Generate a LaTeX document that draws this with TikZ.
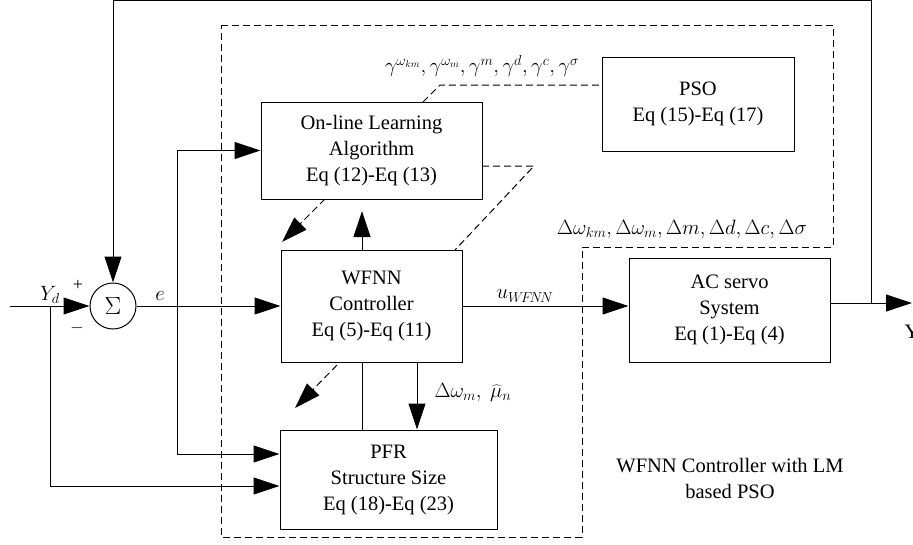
\documentclass[tikz,border=0pt]{standalone}
\usepackage{fontspec}
\setmainfont{Liberation Serif}
\usetikzlibrary{arrows.meta}
\begin{document}
\begin{tikzpicture}[x=1pt,y=-1pt,
  line width=1pt,
  every node/.style={font=\fontsize{20.5}{26}\selectfont},
  blk/.style={draw, align=center, inner sep=0pt},
  arr/.style={-{Triangle[length=26pt,width=17pt]}},
  dsh/.style={dash pattern=on 7pt off 4pt, line width=1pt},
  lbl/.style={inner sep=1pt}]
\useasboundingbox (0,0) rectangle (913,544);
% blocks
\node[blk, minimum width=221pt, minimum height=97pt] (ol) at (371.5,150.5) {On-line Learning\\Algorithm\\Eq (12)-Eq (13)};
\node[blk, minimum width=192pt, minimum height=94pt] (pso) at (698,104) {PSO\\Eq (15)-Eq (17)};
\node[blk, minimum width=181pt, minimum height=112pt] (wf) at (371.5,306) {WFNN\\Controller\\Eq (5)-Eq (11)};
\node[blk, minimum width=217pt, minimum height=99pt] (pfr) at (388.5,479.5) {PFR\\Structure Size\\Eq (18)-Eq (23)};
\node[blk, minimum width=201pt, minimum height=104pt] (ac) at (729.5,310) {AC servo\\System\\Eq (1)-Eq (4)};
\node[draw, circle, minimum size=46pt, inner sep=0pt, font=\fontsize{24}{24}\selectfont] (sum) at (113,306) {$\Sigma$};
% coordinates
\coordinate (in) at (10,306);
\coordinate (b1) at (50,306);
\coordinate (b1d) at (50,486);
\coordinate (b2) at (177,306);
\coordinate (h454) at (0,454);
\coordinate (out) at (912,303);
\coordinate (t1) at (871,303);
\coordinate (t2) at (871,0.5);
\coordinate (t3) at (113,0.5);
\coordinate (x362) at (362,0);
\coordinate (x417) at (417,0);
\coordinate (up) at (362,211);
% connectors
\draw[arr] (in) -- (sum.west);
\draw[arr] (b1) -- (b1d) -- (pfr.west |- b1d);
\draw[arr] (sum.east) -- (wf.west);
\draw[arr] (b2) |- (ol.west);
\draw[arr] (b2) |- (pfr.west |- h454);
\draw[arr] (t1) -- (t2) -- (t3) -- (sum.north);
\draw[arr] (ac.east |- out) -- (out);
\draw[arr] (wf.east) -- (ac.west |- wf.east);
\draw[arr] (wf.north -| up) -- (up);
\draw (wf.south -| x362) -- (pfr.north -| x362);
\draw[arr] (wf.south -| x417) -- (pfr.north -| x417);
% dashed
\coordinate (da1) at (325,199); \coordinate (da2) at (282,242);
\coordinate (db1) at (337,365); \coordinate (db2) at (295,408);
\draw[dsh, arr] (da1) -- (da2);
\draw[dsh, arr] (db1) -- (db2);
\coordinate (dc1) at (482,166); \coordinate (dc2) at (534,166); \coordinate (dc3) at (455,250);
\draw[dsh] (dc1) -- (dc2) -- (dc3);
\coordinate (dd1) at (423,102); \coordinate (dd2) at (440,85);
\draw[dsh] (dd1) -- (dd2) -- (pso.west |- dd2);
\draw[dsh] (221,25) -- (833,25) -- (833,247) -- (582,247) -- (582,537) -- (221,537) -- cycle;
% labels
\node[lbl] (lg) at (482,66) {$\gamma^{\omega_{km}}, \gamma^{\omega_m}, \gamma^m, \gamma^d, \gamma^c, \gamma^\sigma$};
\node[lbl] (ld) at (682,229) {$\Delta\omega_{km}, \Delta\omega_m, \Delta m, \Delta d, \Delta c, \Delta\sigma$};
\node[lbl] (lyd) at (50,295) {$Y_d$};
\node[lbl] (lp) at (78,285) {\fontsize{18}{18}\selectfont +};
\node[lbl] (lm) at (77,328) {\fontsize{16}{16}\selectfont $-$};
\node[lbl] (le) at (160,296) {$e$};
\node[lbl] (lu) at (525,296) {$u_{W\!F\!N\!N}$};
\node[lbl, anchor=west] (lw) at (433,392) {$\Delta\omega_m,\ \widehat{\mu}_n$};
\node[lbl, anchor=west] (ly) at (903,332) {Y};
\node[lbl, align=center] (lt) at (730,478) {WFNN Controller with LM\\based PSO};
\end{tikzpicture}
\end{document}
